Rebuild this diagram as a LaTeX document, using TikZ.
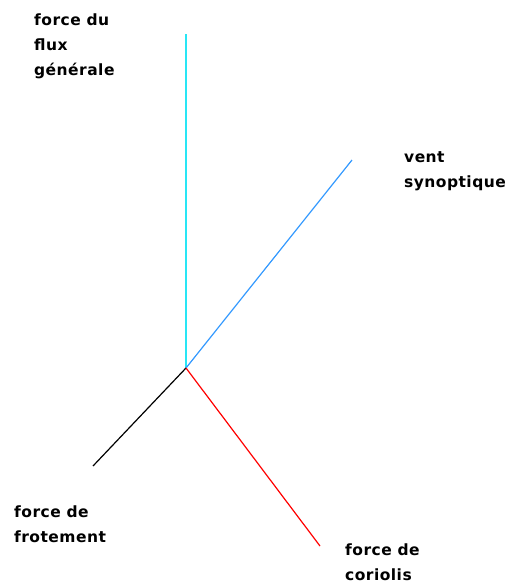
\documentclass[tikz,border=0pt]{standalone}
\usepackage{fontspec}
\setmainfont{DejaVu Sans}[LetterSpace=3]
\usetikzlibrary{positioning}
\definecolor{fluxcyan}{RGB}{40,230,245}
\definecolor{ventblue}{RGB}{51,153,255}
\definecolor{coriolisred}{RGB}{255,0,0}
\tikzset{
  lbl/.style={anchor=base west, inner sep=0pt, align=left,
              font=\fontsize{15.5}{25}\selectfont\bfseries}
}

\begin{document}
\begin{tikzpicture}[x=1pt, y=-1pt]
    \useasboundingbox (0,0) rectangle (512,584);
    % origin and vector ends
    \coordinate (o) at (186,368);
    \coordinate (flux) at (186,34);
    \coordinate (vent) at (352,160);
    \coordinate (frot) at (93,466);
    \coordinate (cor) at (320,546);
    \draw[fluxcyan, line width=1.2pt] (o) -- (flux);
    \draw[ventblue, line width=1.2pt] (o) -- (vent);
    \draw[black, line width=1.2pt] (o) -- (frot);
    \draw[coriolisred, line width=1.2pt] (o) -- (cor);
    % labels (base = last line)
    \node[lbl] (fluxlbl) at (34,75) {force du\\flux\\générale};
    \node[lbl] (ventlbl) at (404,187) {vent\\synoptique};
    \node[lbl] (frotlbl) at (14,542) {force de\\frotement};
    \node[lbl] (corlbl) at (345,580) {force de\\coriolis};
\end{tikzpicture}
\end{document}
